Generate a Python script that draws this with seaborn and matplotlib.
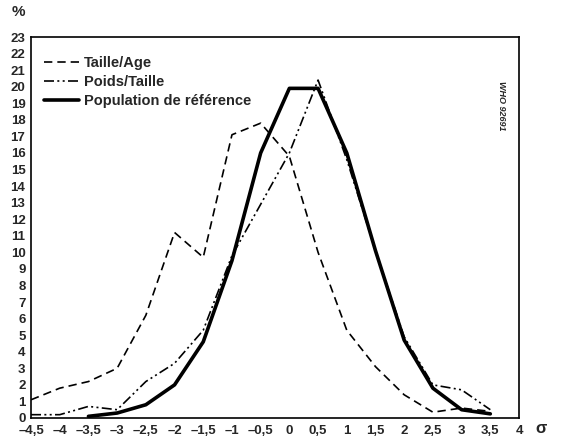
import pandas as pd
import numpy as np
import matplotlib
matplotlib.use('Agg')
import matplotlib.pyplot as plt
import seaborn as sns

sigma = [-4.5, -4, -3.5, -3, -2.5, -2, -1.5, -1, -0.5, 0, 0.5, 1, 1.5, 2, 2.5, 3, 3.5]
taille_age = [1.1, 1.8, 2.2, 3.0, 6.2, 11.2, 9.7, 17.1, 17.8, 15.8, 10.0, 5.3, 3.1, 1.4, 0.35, 0.6, 0.4]
poids_taille = [0.2, 0.2, 0.7, 0.5, 2.2, 3.3, 5.3, 9.8, 12.9, 16.0, 20.4, 15.6, 10.1, 4.9, 2.0, 1.7, 0.5]
ref_sigma = [-3.5, -3, -2.5, -2, -1.5, -1, -0.5, 0, 0.5, 1, 1.5, 2, 2.5, 3, 3.5]
ref_pop = [0.1, 0.3, 0.8, 2.0, 4.6, 9.5, 16.0, 19.9, 19.9, 16.0, 10.1, 4.7, 1.8, 0.5, 0.25]

xticks = [-4.5, -4, -3.5, -3, -2.5, -2, -1.5, -1, -0.5, 0, 0.5, 1, 1.5, 2, 2.5, 3, 3.5, 4]
xlabels = ['\u20134,5', '\u20134', '\u20133,5', '\u20133', '\u20132,5', '\u20132', '\u20131,5', '\u20131',
           '\u20130,5', '0', '0,5', '1', '1,5', '2', '2,5', '3', '3,5', '4']
yticks = list(range(0, 24))

sns.set_style('white')
plt.rcParams['font.family'] = ['Liberation Sans', 'DejaVu Sans']
plt.rcParams['font.weight'] = 'bold'

fig = plt.figure(figsize=(5.65, 4.36), dpi=100)
ax = fig.add_axes([0.0549, 0.0413, 0.8637, 0.8738])

df_ta = pd.DataFrame({'x': sigma, 'y': taille_age})
df_pt = pd.DataFrame({'x': sigma, 'y': poids_taille})
df_ref = pd.DataFrame({'x': ref_sigma, 'y': ref_pop})

sns.lineplot(data=df_ta, x='x', y='y', ax=ax, color='black', lw=1.2,
             label='Taille/Age', linestyle=(0, (5, 3)))
sns.lineplot(data=df_pt, x='x', y='y', ax=ax, color='black', lw=1.2,
             label='Poids/Taille', linestyle=(0, (6, 2, 1.2, 2, 1.2, 2)))
sns.lineplot(data=df_ref, x='x', y='y', ax=ax, color='black', lw=2.6,
             label='Population de r\u00e9f\u00e9rence')

ax.set_xlim(-4.5, 4)
ax.set_ylim(0, 23)
ax.set_xticks(xticks)
ax.set_xticklabels(xlabels, fontsize=9.5, fontweight='bold')
ax.set_yticks(yticks)
ax.set_yticklabels([str(v) for v in yticks], fontsize=9.5, fontweight='bold')
ax.tick_params(axis='x', direction='in', length=4, width=1, pad=5)
ax.tick_params(axis='y', direction='in', length=0, pad=4)
ax.set_xlabel('')
ax.set_ylabel('')
for s in ax.spines.values():
    s.set_color('black')
    s.set_linewidth(1.2)

leg = ax.legend(loc='upper left', frameon=False, handlelength=2.4, handletextpad=0.3,
                labelspacing=0.35, bbox_to_anchor=(0.0, 0.985),
                prop={'weight': 'bold', 'size': 10.5})

fig.text(12 / 565, 1 - 12 / 436, '%', fontsize=11, fontweight='bold', ha='left', va='center')
fig.text(541 / 565, 1 - 428 / 436, '\u03c3', fontsize=12, ha='center', va='center')
ax.text(0.965, 0.82, 'WHO 92691', transform=ax.transAxes, rotation=-90, fontsize=6.5,
        fontweight='bold', style='italic', ha='center', va='center')

fig.savefig('out.png', dpi=100)
